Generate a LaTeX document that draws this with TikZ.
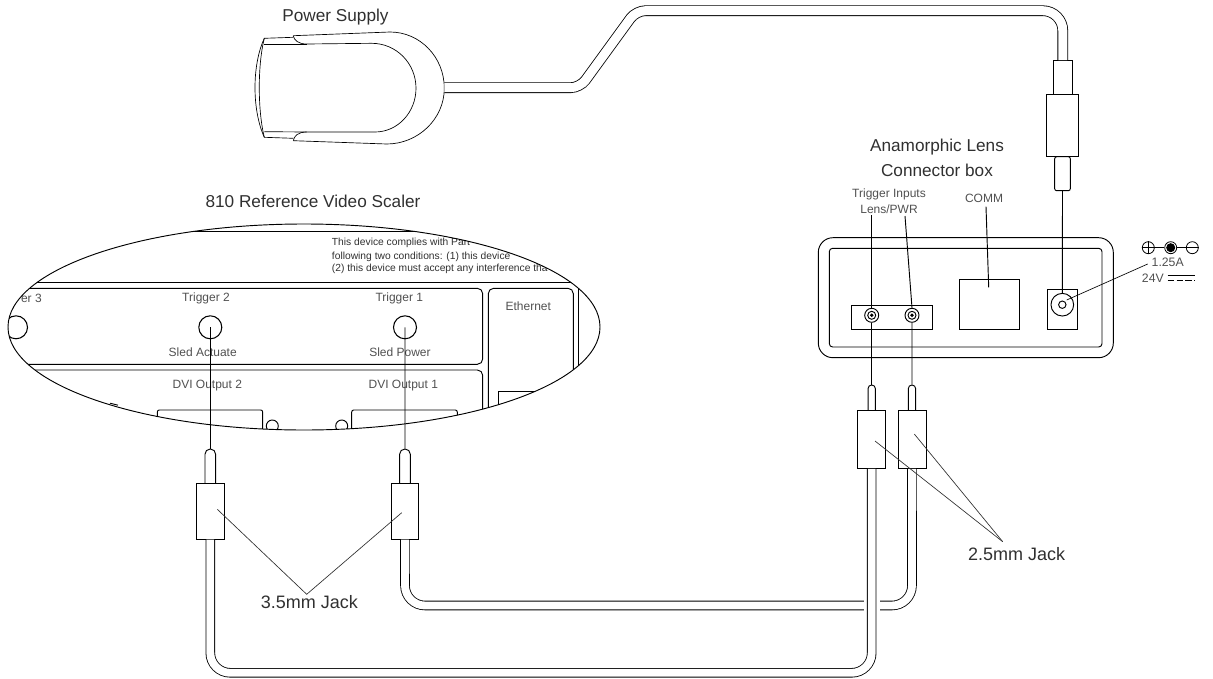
\documentclass[tikz,border=0pt]{standalone}
\usepackage{fontspec}
\setmainfont{Liberation Sans}
\usepackage{tikz}
\usetikzlibrary{shapes.geometric}
\definecolor{LBLDARK}{HTML}{303030}
\definecolor{LBLGREY}{HTML}{505050}
\tikzstyle{biglabel} = [inner sep=0pt, align=center, text=LBLDARK, font=\fontsize{12.9}{18.6}\selectfont]
\tikzstyle{jacklabel} = [inner sep=0pt, text=LBLDARK, font=\fontsize{13.5}{16}\selectfont]
\tikzstyle{smalllabel} = [inner sep=0pt, align=center, text=LBLGREY, font=\fontsize{9}{12}\selectfont]
\tikzstyle{legal} = [inner sep=0pt, text=LBLDARK, font=\fontsize{7.7}{10}\selectfont]
\tikzstyle{wire} = [line width=0.7pt, draw=black]
\tikzstyle{thinwire} = [line width=0.5pt, draw=black]
\tikzstyle{leader} = [line width=0.5pt, draw=LBLDARK]
\tikzstyle{cable} = [line width=0.62pt, draw=black, double=white, double distance=5.9pt]
\tikzstyle{port} = [circle, draw=black, line width=0.8pt, inner sep=0pt, minimum size=17.25pt]
\tikzstyle{socket} = [circle, draw=black, line width=0.7pt, inner sep=0pt, minimum size=10.5pt]
\tikzstyle{sym} = [circle, draw=black, line width=0.6pt, inner sep=0pt, minimum size=9pt]
\tikzstyle{jackbody} = [rectangle, draw=black, fill=white, line width=0.7pt, inner sep=0pt, minimum width=20.7pt, minimum height=42pt]
\tikzstyle{lensbody} = [jackbody, minimum width=21pt, minimum height=43.5pt]
\tikzstyle{jacktip} = [rectangle, draw=black, line width=0.7pt, rounded corners=3.9pt, inner sep=0pt, minimum width=8pt, minimum height=30pt]
\tikzstyle{lenstip} = [jacktip, rounded corners=2.7pt, minimum width=5.5pt, minimum height=26.25pt]
\begin{document}
\begin{tikzpicture}[x=0.75pt, y=-0.75pt, node distance=30pt]
\useasboundingbox (0,0) rectangle (1213,678);

% power supply
\draw [thinwire] (293.3,35.7) -- (390,32) .. controls (420,32) and (444.3,57) .. (444.3,88.3) .. controls (444.3,119) and (418,144) .. (386.7,144) -- (293.3,140.7);
\draw [thinwire] (293.3,35.7) .. controls (294,40) and (298,44) .. (306.7,44) -- (371.7,43.3) .. controls (396,43.3) and (416,63) .. (416,88.3) .. controls (416,112) and (398,132) .. (375,132) -- (306.7,132) .. controls (298,132) and (294,136) .. (293.3,140.7);
\draw [thinwire] (293.3,37.3) -- (264.3,38.3) .. controls (251.9,65) and (251.9,110) .. (264.3,137.3) -- (293.3,138.3);
\draw [thinwire] (264.3,38.3) .. controls (257.6,65) and (257.6,110) .. (264.3,137.3);
\draw [thinwire] (264.3,44) -- (306.7,44);
\draw [thinwire] (264.3,131.7) -- (306.7,132);
\coordinate (psuout) at (444.3,87.7);
\node (psulabel) [biglabel] at (335.5,17) {Power Supply};

% scaler panel inside the lens
\node (scalerlabel) [biglabel] at (313,201) {810 Reference Video Scaler};
\begin{scope}
\clip (304,327) ellipse (296 and 103);
\draw [wire] (0,231.7) -- (600,231.7);
\draw [wire] (0,282.3) -- (600,282.3);
\draw [wire, rounded corners=4pt] (-10,288.3) -- (482.7,288.3) -- (482.7,364.3) -- (-10,364.3);
\draw [wire, rounded corners=4pt] (-10,370) -- (482.7,370) -- (482.7,440);
\draw [wire, rounded corners=4pt] (488.3,440) -- (488.3,288.3) -- (573.3,288.3) -- (573.3,440);
\draw [wire] (578.7,282.3) -- (578.7,440);
\draw [wire] (498.3,440) -- (498.3,391.7) -- (600,391.7);
\draw [wire, rounded corners=1.5pt] (157.3,440) -- (157.3,410) -- (262.7,410) -- (262.7,440);
\draw [wire, rounded corners=1.5pt] (351.7,440) -- (351.7,410) -- (457.3,410) -- (457.3,440);
\draw [wire] (272.3,426) circle (6);
\draw [wire] (341.7,426) circle (6);
\node (trigc) [port] at (16,327.3) {};
\node (trigb) [port] at (210.3,327.3) {};
\node (triga) [port] at (405,327.3) {};
\node (trigclabel) [smalllabel, anchor=east] at (42,298) {er 3};
\node (trigblabel) [smalllabel] at (206,298) {Trigger 2};
\node (trigalabel) [smalllabel] at (399.3,298) {Trigger 1};
\node (sledb) [smalllabel] at (202.7,352.7) {Sled Actuate};
\node (sleda) [smalllabel] at (400,352.7) {Sled Power};
\node (dvib) [smalllabel] at (207.3,385.3) {DVI Output 2};
\node (dvia) [smalllabel] at (403.3,385.3) {DVI Output 1};
\node (ethlabel) [smalllabel] at (528.3,306.7) {Ethernet};
\node (legala) [legal, anchor=west] at (331.7,243.3) {This device complies with Part};
\node (legalb) [legal, anchor=west] at (331.7,256.7) {following two conditions: (1) this device};
\node (legalc) [legal, anchor=west] at (331.7,269.3) {(2) this device must accept any interference tha};
\end{scope}
\draw [wire] (304,327) ellipse (296 and 103);
\draw [wire] (110,403.2) -- (118,405.2);

% connector box
\draw [wire, rounded corners=11pt] (818.3,237.7) rectangle (1113.3,357.7);
\draw [wire, rounded corners=2.5pt] (829.3,248.3) rectangle (1102,347);
\node (anamlabel) [biglabel] at (937,158) {Anamorphic Lens\\Connector box};
\node (triglabel) [smalllabel] at (889,201) {Trigger Inputs\\Lens/PWR};
\node (commlabel) [smalllabel] at (984,198.7) {COMM};
\draw [wire] (851.3,305.3) rectangle (932.3,329.3);
\draw [wire] (959.3,279.3) rectangle (1019.3,329.3);
\draw [wire] (1047,289.3) rectangle (1077.7,329.3);
\node (socka) [socket] at (871.7,315.3) {};
\node (sockb) [socket] at (912,315.3) {};
\draw [wire] (socka) circle (4);
\draw [wire] (sockb) circle (4);
\draw [wire, fill=black] (socka) circle (1.2);
\draw [wire, fill=black] (sockb) circle (1.2);
\node (dcjack) [circle, draw=black, line width=0.7pt, inner sep=0pt, minimum size=17pt] at (1062.3,304.7) {};
\draw [wire] (dcjack) circle (3.7);

% rating
\node (symplus) [sym] at (1148.3,247.7) {};
\node (symdot) [sym] at (1170.7,247.7) {};
\node (symminus) [sym] at (1192.3,247.7) {};
\draw [wire, fill=black] (symdot) circle (4);
\draw [thinwire] (symplus) -- (symdot);
\draw [thinwire] (symdot) -- (symminus);
\draw [thinwire] (symplus.west) -- (symplus.east);
\draw [thinwire] (symplus.north) -- (symplus.south);
\draw [thinwire] (symminus.west) -- (symminus.east);
\node (amps) [smalllabel, font=\fontsize{9.2}{12}\selectfont] at (1167.7,262.7) {1.25A};
\node (volts) [smalllabel, anchor=west, font=\fontsize{9.2}{12}\selectfont] at (1141.7,278.3) {24V};
\draw [thinwire] (1167.7,275.7) -- (1195,275.7);
\draw [thinwire, dash pattern=on 5pt off 1.6pt] (1167.7,280) -- (1195,280);

% jacks
\node (tipa) [jacktip] at (210.3,469) {};
\node (tipb) [jacktip, right of=tipa, xshift=116pt] {};
\node (jacka) [jackbody, below of=tipa, yshift=-1.7pt] {};
\node (jackb) [jackbody, below of=tipb, yshift=-1.7pt] {};

\node (tipc) [lenstip] at (871.7,402.5) {};
\node (tipd) [lenstip, right of=tipc, xshift=0.2pt] {};
\node (jackc) [lensbody, below of=tipc, yshift=2.4pt] {};
\node (jackd) [lensbody, below of=tipd, yshift=2.4pt] {};

\node (relief) [rectangle, draw=black, line width=0.7pt, inner sep=0pt, minimum width=14.25pt, minimum height=25.2pt] at (1062.8,77.5) {};
\node (plugpin) [rectangle, draw=black, line width=0.7pt, rounded corners=1.5pt, inner sep=0pt, minimum width=11.7pt, minimum height=25.5pt] at (1062.5,173.7) {};
\node (plugbody) [jackbody, minimum width=23.7pt, minimum height=46.8pt] at (1062.5,125.5) {};

% cables
\draw [cable, double distance=6.75pt] (psuout) [rounded corners=7pt] -- (580,87.7) -- (636,10.7) [rounded corners=15pt] -- (1062.8,10.7) -- (relief.north);
\draw [cable] (jackb.south) [rounded corners=15pt] -- (405,605.5) -- (912,605.5) -- (jackd.south);
\fill [white] (863.5,598) rectangle (879.5,613);
\draw [cable] (jacka.south) [rounded corners=15pt] -- (210.3,672.8) -- (871.7,672.8) -- (jackc.south);

% wires
\coordinate (lensend) at (871.7,215);
\coordinate (pwrend) at (905,216);
\coordinate (commend) at (986,206.7);
\coordinate (commpin) at (988.7,287.3);
\draw [wire] (trigb.center) -- (tipa.north);
\draw [wire] (triga.center) -- (tipb.north);
\draw [wire] (lensend) -- (socka.north);
\draw [wire] (pwrend) -- (sockb.north);
\draw [wire] (commend) -- (commpin);
\draw [wire] (socka.south) -- (tipc.north);
\draw [wire] (sockb.south) -- (tipd.north);
\draw [wire] (plugpin.south) -- (dcjack.north);

% leaders
\node (smalljack) [jacklabel] at (309.3,602) {3.5mm Jack};
\node (bigjack) [jacklabel] at (1016.7,554) {2.5mm Jack};
\coordinate (smallapex) at (306.7,594.3);
\coordinate (bigapex) at (1002.7,541.7);
\coordinate (smallleft) at (217.3,509.3);
\coordinate (smallright) at (401.7,512.7);
\coordinate (bigleft) at (875,441);
\coordinate (bigright) at (914.3,434);
\coordinate (ratingend) at (1147.7,264);
\coordinate (ratingpin) at (1066.7,300);
\draw [leader] (smallapex) -- (smallleft);
\draw [leader] (smallapex) -- (smallright);
\draw [leader] (bigapex) -- (bigleft);
\draw [leader] (bigapex) -- (bigright);
\draw [thinwire] (ratingend) -- (ratingpin);

\end{tikzpicture}
\end{document}
